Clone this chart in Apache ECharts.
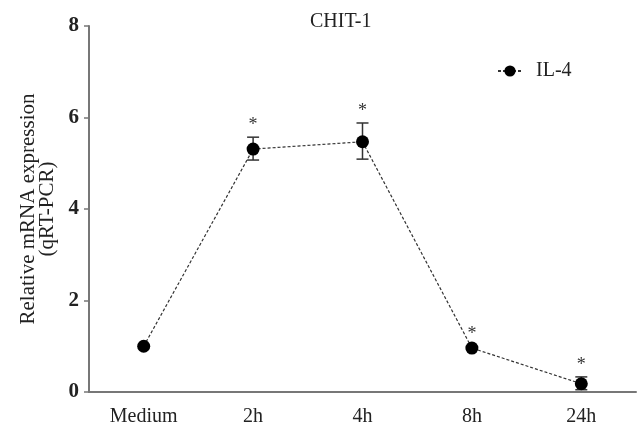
<!DOCTYPE html>
<html>
<head>
<meta charset="utf-8">
<script src="https://cdn.jsdelivr.net/npm/echarts@6/dist/echarts.min.js"></script>
<style>
  html, body { margin: 0; padding: 0; background: #fff; }
  #main { width: 637px; height: 423px; }
</style>
</head>
<body>
<div id="main"></div>
<script>
// time points
var categories = ['Medium', '2h', '4h', '8h', '24h'];
// IL-4 mean values
var il4Values = [1.0, 5.31, 5.47, 0.96, 0.18];
// error bar bounds
var errLow = [1.0, 5.07, 5.09, 0.93, 0.05];
var errHigh = [1.0, 5.57, 5.88, 0.99, 0.33];
// significance marks
var sigMarks = ['', '*', '*', '*', '*'];
var yTicks = [0, 2, 4, 6, 8];

var serif = '"Liberation Serif", "DejaVu Serif", serif';

var errData = categories.map(function (c, i) {
    return [i, errLow[i], errHigh[i]];
});

var myChart = echarts.init(document.getElementById('main'));

var option = {
    backgroundColor: '#fff',
    animation: false,
    title: {
        text: 'CHIT-1',
        left: 305,
        top: 7,
        textStyle: { fontFamily: serif, fontSize: 20, fontWeight: 'normal', color: '#222' }
    },
    legend: {
        data: ['IL-4'],
        left: 497,
        top: 61,
        padding: 0,
        itemWidth: 24,
        itemHeight: 14,
        textStyle: { fontFamily: serif, fontSize: 20, color: '#222', padding: [0, 0, 0, 9] }
    },
    grid: {
        left: 89,
        right: 1,
        top: 26,
        bottom: 31,
        outerBoundsMode: 'none',
        containLabel: false
    },
    xAxis: {
        type: 'category',
        data: categories,
        boundaryGap: true,
        axisLine: { lineStyle: { color: '#777', width: 2 } },
        axisTick: { alignWithLabel: true, length: 5, lineStyle: { color: '#777', width: 1.5 } },
        axisLabel: { fontFamily: serif, fontSize: 20, color: '#222', margin: 15 }
    },
    yAxis: {
        type: 'value',
        min: yTicks[0],
        max: yTicks[yTicks.length - 1],
        interval: 2,
        name: 'Relative mRNA expression\n(qRT-PCR)',
        nameLocation: 'middle',
        nameGap: 32,
        nameTextStyle: { fontFamily: serif, fontSize: 21, color: '#222', lineHeight: 19 },
        axisLine: { show: true, lineStyle: { color: '#777', width: 2 } },
        axisTick: { show: true, length: 5, lineStyle: { color: '#777', width: 1.5 } },
        axisLabel: { fontFamily: serif, fontSize: 21, fontWeight: 'bold', color: '#222', margin: 10 },
        splitLine: { show: false }
    },
    series: [
        {
            name: 'IL-4',
            type: 'line',
            data: il4Values,
            symbol: 'circle',
            symbolSize: 13,
            itemStyle: { color: '#000' },
            lineStyle: { color: '#333', width: 1.2, type: [3, 2] },
            z: 3
        },
        {
            name: 'err',
            type: 'custom',
            data: errData,
            z: 2,
            renderItem: function (params, api) {
                var x = api.value(0);
                var lo = api.coord([x, api.value(1)]);
                var hi = api.coord([x, api.value(2)]);
                var cap = 6;
                var style = { stroke: '#333', lineWidth: 1.5 };
                var children = [];
                if (api.value(2) - api.value(1) > 0.001) {
                    children.push(
                        { type: 'line', shape: { x1: lo[0], y1: lo[1], x2: hi[0], y2: hi[1] }, style: style },
                        { type: 'line', shape: { x1: lo[0] - cap, y1: lo[1], x2: lo[0] + cap, y2: lo[1] }, style: style },
                        { type: 'line', shape: { x1: hi[0] - cap, y1: hi[1], x2: hi[0] + cap, y2: hi[1] }, style: style }
                    );
                }
                var mark = sigMarks[params.dataIndex];
                if (mark) {
                    children.push({
                        type: 'text',
                        style: {
                            text: mark,
                            x: hi[0],
                            y: hi[1] - 3,
                            align: 'center',
                            verticalAlign: 'bottom',
                            font: '18px ' + serif,
                            fill: '#333'
                        }
                    });
                }
                return { type: 'group', children: children };
            }
        }
    ]
};

myChart.setOption(option);
</script>
</body>
</html>
